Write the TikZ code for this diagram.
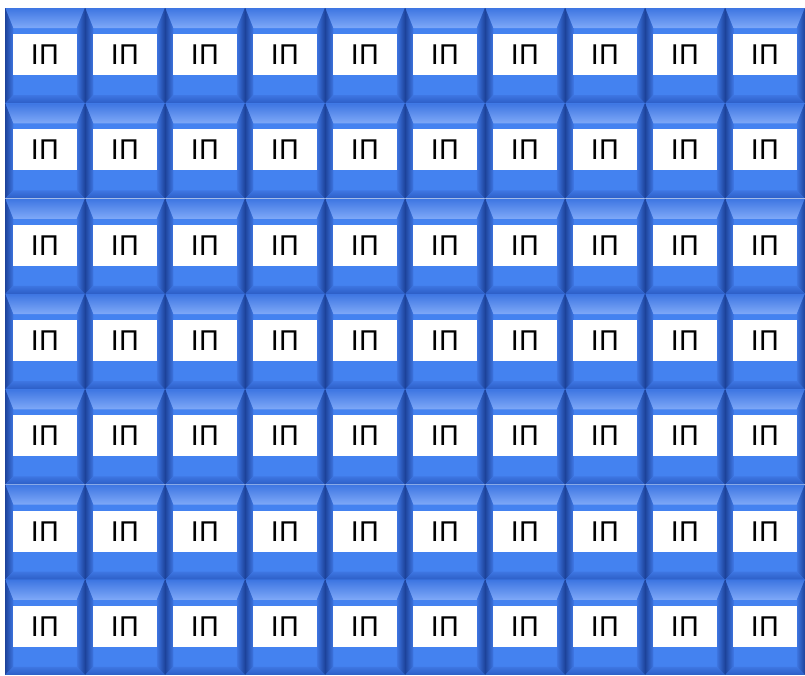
\documentclass[tikz,border=0pt]{standalone}
\usepackage{fontspec}
\setmainfont{DejaVu Sans}
\usetikzlibrary{calc}
\definecolor{faceblue}{HTML}{4482F0}
\definecolor{topblue}{HTML}{7FA9F8}
\definecolor{sideblue}{HTML}{3E76E2}
\definecolor{edgeblue}{HTML}{1E449C}
\definecolor{botblue}{HTML}{2C5EC6}

\begin{document}
\begin{tikzpicture}[
    x=1pt, y=1pt,
    cell/.style={rectangle, fill=faceblue, minimum width=79.5pt, minimum height=95pt, inner sep=0pt, outer sep=0pt},
    tag/.style={rectangle, fill=white, minimum width=64pt, minimum height=41pt, inner sep=0pt, font=\fontsize{27}{27}\selectfont},
]
    % --- Canvas ---
    \useasboundingbox (0,0) rectangle (805,-675);
    \fill[white] (0,0) rectangle (805,-675);

    % --- Grid: 7 rows x 10 columns ---
    \def\cw{80}
    \def\rh{95.3}
    \foreach \r in {1,...,7} {
      \foreach \c in {1,...,10} {
        \node[cell] (box-\r-\c) at ({5+\cw*(\c-1)+40}, {-8-\rh*(\r-1)-47.65}) {};
        % top bevel
        \shade[top color=sideblue, bottom color=topblue]
            (box-\r-\c.north west) -- (box-\r-\c.north east)
            -- ($(box-\r-\c.north east)+(-8,-20)$) -- ($(box-\r-\c.north west)+(8,-20)$) -- cycle;
        % left bevel
        \shade[left color=edgeblue, right color=sideblue]
            (box-\r-\c.north west) -- ($(box-\r-\c.north west)+(8,-20)$)
            -- ($(box-\r-\c.south west)+(8,8)$) -- (box-\r-\c.south west) -- cycle;
        % right bevel
        \shade[left color=sideblue, right color=edgeblue]
            (box-\r-\c.north east) -- ($(box-\r-\c.north east)+(-8,-20)$)
            -- ($(box-\r-\c.south east)+(-8,8)$) -- (box-\r-\c.south east) -- cycle;
        % bottom bevel
        \shade[top color=sideblue, bottom color=botblue]
            (box-\r-\c.south west) -- ($(box-\r-\c.south west)+(8,8)$)
            -- ($(box-\r-\c.south east)+(-8,8)$) -- (box-\r-\c.south east) -- cycle;
        \node[tag] (tag-\r-\c) at ([yshift=1pt]box-\r-\c.center) {IП};
      }
    }
\end{tikzpicture}
\end{document}
